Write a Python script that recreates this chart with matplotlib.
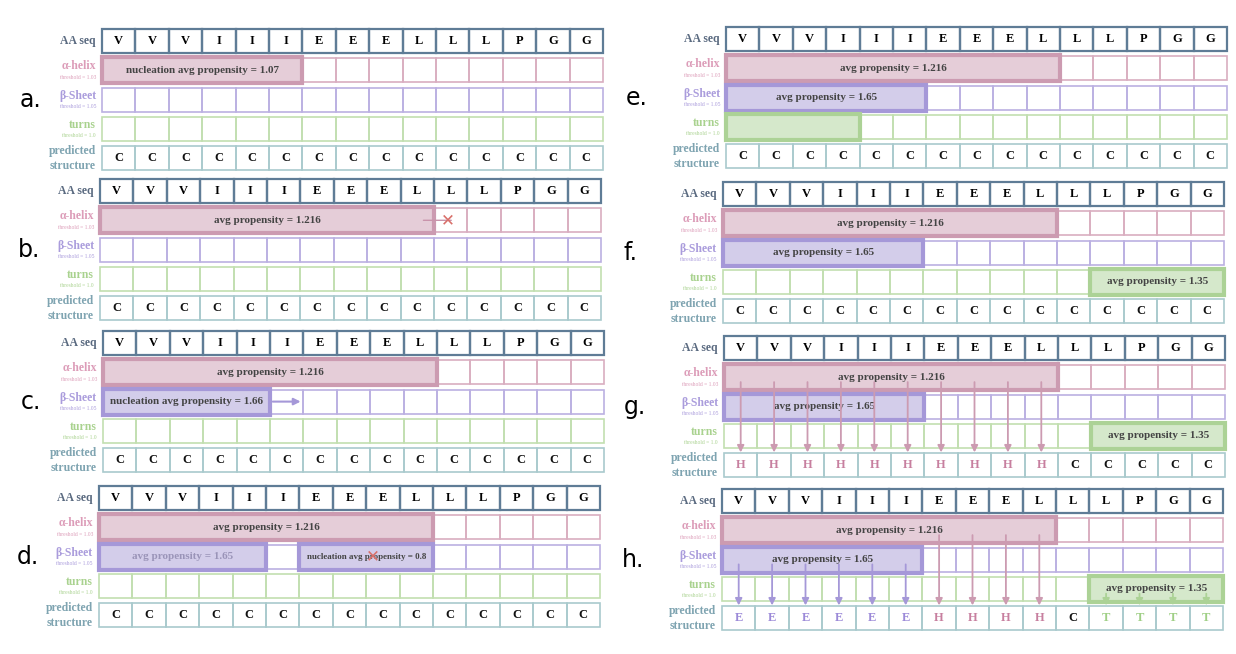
import matplotlib
matplotlib.use("Agg")
import matplotlib.pyplot as plt
from matplotlib.patches import Rectangle

# data
aa_seq = ["V", "V", "V", "I", "I", "I", "E", "E", "E", "L", "L", "L", "P", "G", "G"]
row_names = ["AA seq", "α-helix", "β-Sheet", "turns", "predicted\nstructure"]
thresholds = [None, "threshold = 1.03", "threshold = 1.05", "threshold = 1.0", None]
panel_letters = ["a.", "b.", "c.", "d.", "e.", "f.", "g.", "h."]
pred_g = ["H"] * 10 + ["C"] * 5
pred_h = ["E"] * 6 + ["H"] * 4 + ["C"] + ["T"] * 4

# overlays: (row, start, end, text)
overlays = {
    "a.": [(1, 0, 6, "nucleation avg propensity = 1.07")],
    "b.": [(1, 0, 10, "avg propensity = 1.216")],
    "c.": [(1, 0, 10, "avg propensity = 1.216"), (2, 0, 5, "nucleation avg propensity = 1.66")],
    "d.": [(1, 0, 10, "avg propensity = 1.216"), (2, 0, 5, "avg propensity = 1.65"),
           (2, 6, 10, "nucleation avg propensity = 0.8")],
    "e.": [(1, 0, 10, "avg propensity = 1.216"), (2, 0, 6, "avg propensity = 1.65"), (3, 0, 4, "")],
    "f.": [(1, 0, 10, "avg propensity = 1.216"), (2, 0, 6, "avg propensity = 1.65"),
           (3, 11, 15, "avg propensity = 1.35")],
    "g.": [(1, 0, 10, "avg propensity = 1.216"), (2, 0, 6, "avg propensity = 1.65"),
           (3, 11, 15, "avg propensity = 1.35")],
    "h.": [(1, 0, 10, "avg propensity = 1.216"), (2, 0, 6, "avg propensity = 1.65"),
           (3, 11, 15, "avg propensity = 1.35")],
}

border = ["#5f7c96", "#d9aec0", "#bbb0e2", "#c2dfb0", "#a9cacd"]
fill = [None, "#e5cdd8", "#d3cdea", "#d5e8cb", None]
fill_edge = [None, "#cc9bb1", "#a598d8", "#acd296", None]
label_col = ["#5a6a80", "#dc9cb8", "#aa9cdc", "#a9d28f", "#7fa4b1"]
res_col = {"H": "#c77f9f", "E": "#9c8ad8", "T": "#9fcf85", "C": "#111111"}

FONT = "Liberation Serif"
fig = plt.figure(figsize=(12.36, 6.54), dpi=100)
ax = fig.add_axes([0, 0, 1, 1])
ax.set_xlim(0, 1236)
ax.set_ylim(654, 0)
ax.axis("off")

left_pos = {"a.": (102, 29), "b.": (100, 179), "c.": (103, 331), "d.": (99, 486),
            "e.": (726, 27), "f.": (723, 182), "g.": (724, 336), "h.": (722, 489)}
CW = 33.4
RH = 24
PITCH = 29.3


def draw_panel(letter):
    x0, y0 = left_pos[letter]
    right = letter in "e.f.g.h."
    ax.text(x0 - 82 if not right else x0 - 100, y0 + 2 * PITCH + RH / 2, letter,
            fontsize=17, family="DejaVu Sans", ha="left", va="center")
    for r in range(5):
        y = y0 + r * PITCH
        lw = 1.6 if r == 0 else 1.2
        for i in range(15):
            ax.add_patch(Rectangle((x0 + i * CW, y), CW, RH, fill=False,
                                   ec=border[r], lw=lw))
        if thresholds[r]:
            ax.text(x0 - 6, y + 8, row_names[r], color=label_col[r], fontsize=8.5,
                    family=FONT, weight="bold", ha="right", va="center")
            ax.text(x0 - 6, y + 19, thresholds[r], color=label_col[r], fontsize=4,
                    family=FONT, ha="right", va="center")
        else:
            ax.text(x0 - 6, y + RH / 2, row_names[r], color=label_col[r], fontsize=8.5,
                    family=FONT, weight="bold", ha="right", va="center",
                    linespacing=1.3)
    y = y0
    for i, aa in enumerate(aa_seq):
        ax.text(x0 + (i + 0.5) * CW, y + RH / 2, aa, fontsize=9, family=FONT,
                weight="bold", ha="center", va="center")
    pred = pred_g if letter == "g." else pred_h if letter == "h." else ["C"] * 15
    y = y0 + 4 * PITCH
    for i, p in enumerate(pred):
        ax.text(x0 + (i + 0.5) * CW, y + RH / 2, p, fontsize=9, family=FONT,
                weight="bold", ha="center", va="center", color=res_col[p])
    for r, s, e, txt in overlays[letter]:
        y = y0 + r * PITCH
        ax.add_patch(Rectangle((x0 + s * CW, y - 1), (e - s) * CW, RH + 2,
                               fc=fill[r], ec=fill_edge[r], lw=3, zorder=3))
        tc = "#444444"
        if letter == "d." and r == 2 and s == 0:
            tc = "#9a94b8"
        fs = 6.5 if "0.8" in txt else 8
        ax.text(x0 + (s + e) / 2 * CW, y + RH / 2, txt, fontsize=fs, family=FONT,
                weight="bold", ha="center", va="center", color=tc, zorder=5)
    if letter == "b.":
        y = y0 + PITCH + RH / 2
        ax.annotate("", xy=(x0 + 10.6 * CW, y), xytext=(x0 + 9.6 * CW, y),
                    arrowprops=dict(arrowstyle="-", color="#c994ab", lw=1), zorder=6)
        ax.text(x0 + 10.4 * CW, y, "✕", color="#d9706a", fontsize=12,
                ha="center", va="center", zorder=7)
    if letter == "c.":
        y = y0 + 2 * PITCH + RH / 2
        ax.annotate("", xy=(x0 + 6 * CW, y), xytext=(x0 + 5 * CW, y),
                    arrowprops=dict(arrowstyle="-|>", color="#a598d8", lw=1.5), zorder=6)
    if letter == "d.":
        y = y0 + 2 * PITCH + RH / 2
        ax.text(x0 + 8.2 * CW, y, "✕", color="#d9706a", fontsize=12,
                ha="center", va="center", zorder=7)
    if letter in ("g.", "h."):
        for i, p in enumerate(pred):
            if p == "C":
                continue
            src = {"H": 1, "E": 2, "T": 3}[p]
            col = fill_edge[src]
            ys = y0 + src * PITCH + RH / 2 + 2
            ye = y0 + 4 * PITCH + 2
            ax.annotate("", xy=(x0 + (i + 0.5) * CW, ye), xytext=(x0 + (i + 0.5) * CW, ys),
                        arrowprops=dict(arrowstyle="-|>", color=col, lw=1.3), zorder=6)


for letter in panel_letters:
    draw_panel(letter)

fig.savefig("out.png", dpi=100)
